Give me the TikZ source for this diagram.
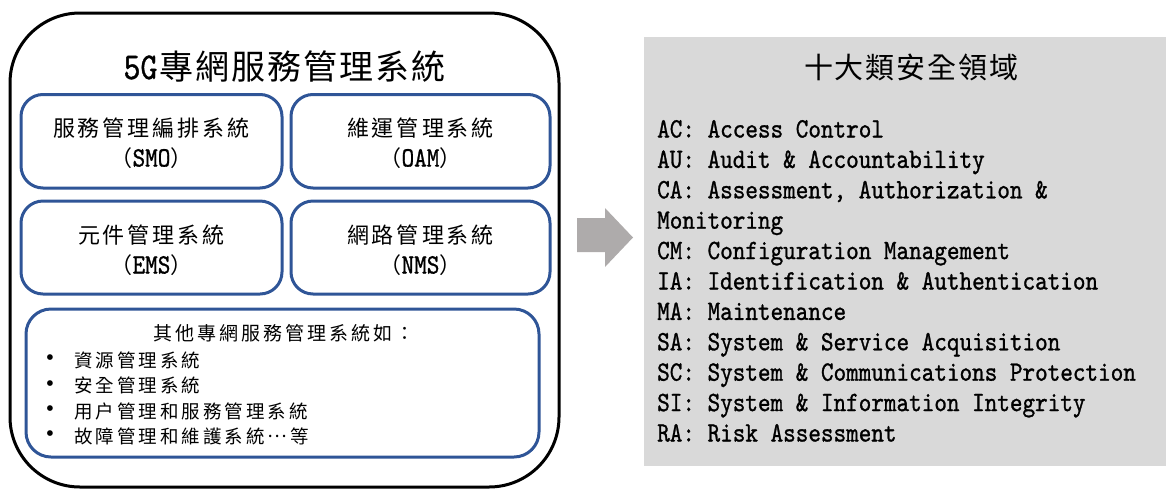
\documentclass[tikz,border=0pt]{standalone}
\usepackage{fontspec}
\setmainfont{Liberation Serif}
\newfontfamily\cjk{Noto Sans CJK TC}
\newfontfamily\mono{lmmono10-regular.otf}[FakeStretch=0.857,FakeBold=1]
\definecolor{boxblue}{HTML}{2F5597}
\definecolor{panelgray}{HTML}{D9D9D9}
\definecolor{arrowgray}{HTML}{AEABAB}
\makeatletter
\newcommand\spc[2]{\def\spc@k{#1}\@tfor\spc@c:=#2\do{\spc@c\kern\spc@k\relax}\unkern}
\makeatother
\newcommand\cjksize[1]{\cjk\fontsize{#1pt}{#1pt}\selectfont}
\newcommand\monosize[1]{\mono\fontsize{#1pt}{#1pt}\selectfont}
\newcommand\abbr[1]{{\cjksize{22}（}{\monosize{28}#1}{\cjksize{22}）}}
\begin{document}
\begin{tikzpicture}[x=1pt,y=-1pt,
  outerbox/.style={draw=black, line width=3pt, rounded corners=70pt, inner sep=0pt},
  bluebox/.style={draw=boxblue, line width=3pt, rounded corners=22pt, inner sep=0pt},
  lbl/.style={anchor=base, inner sep=0pt},
  lft/.style={anchor=base west, inner sep=0pt},
  listline/.style={anchor=base west, inner sep=0pt, font=\monosize{28}},
  bulletdot/.style={anchor=center, inner sep=0pt, font=\fontsize{21pt}{21pt}\selectfont\bfseries}
]
\useasboundingbox (0,0) rectangle (1166,488);

% left panel
\node[outerbox, minimum width=549pt, minimum height=474pt] (outer) at (284.5,250) {};
\node[lbl] (title) at (284.5,79) {{\monosize{37.8}5G}\kern2pt{\cjksize{34}\spc{2pt}{專網服務管理系統}}};

\node[bluebox, minimum width=261pt, minimum height=93.5pt] (smo) at (151.5,141.25) {};
\node[bluebox, minimum width=259pt, minimum height=93.5pt] (oam) at (420.5,141.25) {};
\node[bluebox, minimum width=261pt, minimum height=93pt] (ems) at (151.5,247.5) {};
\node[bluebox, minimum width=259pt, minimum height=93pt] (nms) at (420.5,247.5) {};
\node[bluebox, rounded corners=25pt, minimum width=513pt, minimum height=148pt] (other) at (282.5,383) {};

\node[lbl] (smo1) at (151.5,136.4) {\cjksize{22}\spc{3pt}{服務管理編排系統}};
\node[lbl] (smo2) at (151.5,166.5) {\abbr{SMO}};
\node[lbl] (oam1) at (420.5,136.4) {\cjksize{22}\spc{3pt}{維運管理系統}};
\node[lbl] (oam2) at (420.5,166.5) {\abbr{OAM}};
\node[lbl] (ems1) at (151.5,243.4) {\cjksize{22}\spc{3pt}{元件管理系統}};
\node[lbl] (ems2) at (151.5,273.5) {\abbr{EMS}};
\node[lbl] (nms1) at (420.5,243.4) {\cjksize{22}\spc{3pt}{網路管理系統}};
\node[lbl] (nms2) at (420.5,273.5) {\abbr{NMS}};

\node[lbl] (othertitle) at (284,340) {\cjksize{19}\spc{3pt}{其他專網服務管理系統如：}};
\node[bulletdot] (b1) at (50,360) {•};
\node[bulletdot] (b2) at (50,385.5) {•};
\node[bulletdot] (b3) at (50,411) {•};
\node[bulletdot] (b4) at (50,436) {•};
\node[lft] (o1) at (74,367) {\cjksize{18.5}\spc{3pt}{資源管理系統}};
\node[lft] (o2) at (74,392.5) {\cjksize{18.5}\spc{3pt}{安全管理系統}};
\node[lft] (o3) at (74,418) {\cjksize{18.5}\spc{3pt}{用户管理和服務管理系統}};
\node[lft] (o4) at (74,443) {\cjksize{18.5}\spc{3pt}{故障管理和維護系統}\kern3pt\raisebox{6pt}{\cjksize{18.5}…}\kern3pt{\cjksize{18.5}等}};

% arrow
\fill[arrowgray] (577,218) -- (605,218) -- (605,208) -- (633,237.5) -- (605,267) -- (605,252) -- (577,252) -- cycle;

% right panel
\node[fill=panelgray, inner sep=0pt, minimum width=522pt, minimum height=429pt] (panel) at (905,251.5) {};
\node[lbl] (rtitle) at (911.5,78) {\cjksize{29}\spc{2pt}{十大類安全領域}};
\node[listline] (l1) at (657,137.5) {AC: Access Control};
\node[listline] (l2) at (657,167.9) {AU: Audit \& Accountability};
\node[listline] (l3) at (657,198.3) {CA: Assessment, Authorization \&};
\node[listline] (l4) at (657,228.7) {Monitoring};
\node[listline] (l5) at (657,259.1) {CM: Configuration Management};
\node[listline] (l6) at (657,289.5) {IA: Identification \& Authentication};
\node[listline] (l7) at (657,319.9) {MA: Maintenance};
\node[listline] (l8) at (657,350.3) {SA: System \& Service Acquisition};
\node[listline] (l9) at (657,380.7) {SC: System \& Communications Protection};
\node[listline] (l10) at (657,411.1) {SI: System \& Information Integrity};
\node[listline] (l11) at (657,441.5) {RA: Risk Assessment};
\end{tikzpicture}
\end{document}
